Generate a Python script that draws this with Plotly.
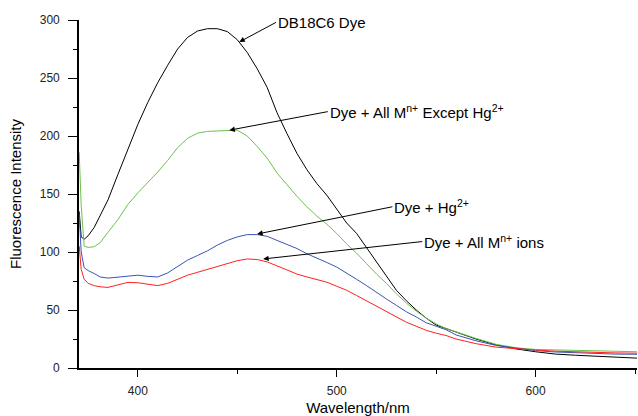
import plotly.graph_objects as go

# Emission wavelength grid (nm)
wavelength = [370.5, 371.5, 373, 375, 378, 381, 385, 390, 395, 400, 405, 410, 415, 420,
              425, 430, 435, 440, 445, 450, 455, 460, 465, 470, 475, 480, 485, 490,
              495, 500, 505, 510, 515, 520, 525, 530, 535, 540, 545, 550, 555, 560,
              570, 580, 590, 600, 610, 620, 630, 640, 651]

# Fluorescence intensity of each sample
dye_only = [135, 113, 111, 114, 121, 131, 145, 167, 188, 210, 229, 246, 261, 275,
            285, 290.5, 292.5, 292.5, 290, 283, 272, 258, 242, 220, 202, 185, 171, 159,
            149, 137, 125, 116, 104, 92, 79, 67, 58, 50, 43, 37, 34, 31,
            25, 20, 16.5, 14, 12, 11, 10, 9, 8.5]

dye_all_except_hg = [186, 140, 105, 104, 104.5, 108, 117, 128, 141, 151, 160, 169, 179, 190,
                     198, 202.5, 204, 204.5, 205, 205, 200, 191, 181, 168, 158, 148, 139, 131,
                     124, 116, 107, 99, 90, 81, 73, 64, 56, 49, 43, 38, 34, 31,
                     25.5, 20.5, 17.5, 16, 15.5, 15, 14.8, 14.5, 14]

dye_hg = [133, 100, 86.5, 84, 81.5, 78.5, 77.5, 78.5, 79.5, 80, 79, 78.5, 82, 87.5,
          93, 97, 101, 106, 110, 113, 115, 115, 113.5, 110, 106.5, 103, 98.5, 95,
          91, 87, 82, 76.5, 71, 65, 59.5, 54, 48.5, 44, 39, 36, 33, 28.5,
          23.5, 19.5, 17, 15, 13.8, 13, 12.5, 12, 11.8]

dye_all_ions = [105, 85, 76.5, 73, 71, 70, 69.5, 71.5, 73.8, 73.5, 72, 71, 73, 76.5,
                80, 82.5, 85, 87.5, 90.5, 92.5, 94, 93.5, 91.5, 88, 84.5, 81, 78.5, 76.5,
                74, 70.5, 67, 62.5, 58, 53, 48.5, 44, 39.5, 36, 32.5, 30, 28, 25,
                21, 18, 16.5, 15.5, 14.5, 13.8, 13.3, 13, 12.8]

series = [
    ("DB18C6 Dye", dye_only, "#000000"),
    ("Dye + All M<sup>n+</sup> Except Hg<sup>2+</sup>", dye_all_except_hg, "#6cc24a"),
    ("Dye + Hg<sup>2+</sup>", dye_hg, "#3a55b4"),
    ("Dye + All M<sup>n+</sup> ions", dye_all_ions, "#ff2020"),
]

# Label placement: (label text, arrow head x, head y, text x, text y)
labels = [
    ("DB18C6 Dye", 451, 281, 469.5, 298),
    ("Dye + All M<sup>n+</sup> Except Hg<sup>2+</sup>", 446, 205, 495.5, 221),
    ("Dye + Hg<sup>2+</sup>", 460, 115.5, 528, 139),
    ("Dye + All M<sup>n+</sup> ions", 463, 94, 543, 109),
]

font_family = "Liberation Sans, Arial, sans-serif"

fig = go.Figure()
for name, values, color in series:
    fig.add_trace(go.Scatter(
        x=wavelength, y=values, mode="lines", name=name,
        line=dict(color=color, width=1),
        showlegend=False, hoverinfo="x+y",
    ))

for text, hx, hy, tx, ty in labels:
    fig.add_annotation(
        x=hx, y=hy, ax=tx, ay=ty, xref="x", yref="y", axref="x", ayref="y",
        text=text, showarrow=True, arrowhead=2, arrowsize=1.1, arrowwidth=1,
        arrowcolor="black", xanchor="left", yanchor="middle",
        font=dict(family=font_family, size=15, color="black"),
    )

axis_common = dict(
    showline=True, linecolor="black", linewidth=1.6, mirror=False,
    showgrid=False, zeroline=False, automargin=False,
    ticks="outside", tickcolor="black", tickwidth=1.3,
    tickfont=dict(family=font_family, size=12, color="#222"),
)

fig.update_xaxes(
    range=[370.4, 651], tickvals=[400, 500, 600], ticklen=7,
    minor=dict(tickvals=[450, 550, 650], ticklen=4, ticks="outside",
               tickcolor="black", tickwidth=1.3),
    title=dict(text="Wavelength/nm", standoff=13,
               font=dict(family=font_family, size=15, color="black")),
    ticklabelstandoff=4,
    **axis_common,
)
fig.update_yaxes(
    range=[0, 300], tickvals=[0, 50, 100, 150, 200, 250, 300], ticklen=9,
    minor=dict(tickvals=[25, 75, 125, 175, 225, 275], ticklen=4, ticks="outside",
               tickcolor="black", tickwidth=1.3),
    title=dict(text="Fluorescence Intensity", standoff=15,
               font=dict(family=font_family, size=15, color="black")),
    ticklabelstandoff=6,
    **axis_common,
)

fig.update_layout(
    width=638, height=416,
    margin=dict(l=79, r=1, t=20, b=48),
    paper_bgcolor="white", plot_bgcolor="white",
)

fig.write_html("out.html")
